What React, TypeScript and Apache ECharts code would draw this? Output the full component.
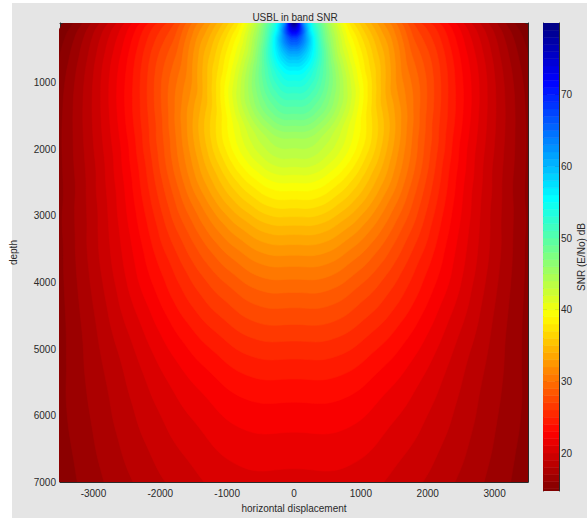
import React, { useEffect, useRef } from "react";
import * as echarts from "echarts";

// ---- axes ----
const xRange = [-3500, 3500];
const depthRange = [100, 7000];
const snrRange = [14.7, 80];
const xTicks = [-3000, -2000, -1000, 0, 1000, 2000, 3000];
const depthTicks = [1000, 2000, 3000, 4000, 5000, 6000, 7000];
const snrTicks = [20, 30, 40, 50, 60, 70];

// ---- filled contour levels (dB), one band per dB ----
const contourLevels = [
  14, 15, 16, 17, 18, 19, 20, 21, 22, 23, 24, 25, 26, 27, 28, 29, 30, 31, 32, 33,
  34, 35, 36, 37, 38, 39, 40, 41, 42, 43, 44, 45, 46, 47, 48, 49, 50, 51, 52, 53,
  54, 55, 56, 57, 58, 59, 60, 61, 62, 63, 64, 65, 66, 67, 68, 69, 70, 71, 72, 73,
  74, 75, 76, 77, 78, 79,
];

// depth (m) at which SNR falls to each level straight below the array (x = 0),
// read off the picture; first entry is level 14, one entry per dB up to 98
const firstProfileLevel = 14;
const profileDepths = [
  12200, 11200, 10300, 9500, 8750, 8050, 7400, 6800, 6250, 5800, // 14-23
  5450, 5150, 4880, 4630, 4380, 4150, 3950, 3760, 3590, 3430, // 24-33
  3280, 3140, 3010, 2880, 2750, 2620, 2500, 2380, 2260, 2130, // 34-43
  1980, 1830, 1730, 1640, 1550, 1460, 1350, 1250, 1150, 1050, // 44-53
  960, 870, 810, 750, 700, 650, 600, 560, 520, 485, // 54-63
  450, 420, 380, 345, 315, 295, 280, 255, 235, 215, // 64-73
  190, 170, 155, 140, 125, 112, 100, 90, 80, 70, // 74-83
  62, 55, 49, 43, 38, 34, 30, 27, 24, 21, // 84-93
  19, 17, 15, 13, 12, // 94-98
];

// beam pattern: off-vertical angle (deg) at which SNR is 0, 0, 1, 2, ... dB below the vertical
const beamAngles = [0, 7, 14, 19, 23, 26.5, 30, 33, 36, 39, 42, 45, 48.5, 52, 56.5, 61.5, 67, 73, 79, 85, 90];
const beamLoss = [0, 0, 1, 2, 3, 4, 5, 6, 7, 8, 9, 10, 11, 12, 13, 14, 15, 16, 17, 18, 19];

// reversed jet colormap (low SNR = dark red, high SNR = dark blue)
const jetReversed = [
  "#800000", "#ff0000", "#ff8000", "#ffff00", "#80ff80",
  "#00ffff", "#0080ff", "#0000ff", "#000080",
];

const FONT = "'Liberation Sans', Arial, Helvetica, sans-serif";
const TXT = "#2a2a2a";
const LINE = "#2a2a2a";

function depthForLevel(level: number): number {
  const i = Math.min(Math.max(level - firstProfileLevel, 0), profileDepths.length - 1);
  return profileDepths[i];
}

export default function App() {
  const ref = useRef<HTMLDivElement>(null);
  useEffect(() => {
    if (!ref.current) return;
    const chart = echarts.init(ref.current, null, { renderer: "svg" });
    const bandData = contourLevels.map((l) => [l, l + 0.5]);

    const contourItem = (params: any, api: any) => {
      const level = api.value(0);
      const pts: number[][] = [];
      const n = beamAngles.length;
      let rTop = 0;
      for (let i = n - 1; i >= 0; i--) {
        const r = depthForLevel(level + beamLoss[i]);
        const a = (beamAngles[i] * Math.PI) / 180;
        if (i === n - 1) rTop = r;
        pts.push(api.coord([r * Math.sin(a), r * Math.cos(a)]));
      }
      for (let i = 1; i < n; i++) {
        const r = depthForLevel(level + beamLoss[i]);
        const a = (beamAngles[i] * Math.PI) / 180;
        pts.push(api.coord([-r * Math.sin(a), r * Math.cos(a)]));
      }
      pts.push(api.coord([-rTop, -1500]));
      pts.push(api.coord([rTop, -1500]));
      const c = api.visual("color");
      return {
        type: "polygon",
        shape: { points: pts, smooth: 0.45 },
        style: { fill: c, stroke: c, lineWidth: 0.6 },
      };
    };

    const colorbarItem = (params: any, api: any) => {
      const lo = Math.max(api.value(0), snrRange[0]);
      const hi = Math.min(api.value(0) + 1, snrRange[1]);
      const p1 = api.coord([0, hi]);
      const p2 = api.coord([1, lo]);
      const c = api.visual("color");
      return {
        type: "rect",
        shape: { x: p1[0], y: p1[1], width: p2[0] - p1[0], height: p2[1] - p1[1] },
        style: { fill: c, stroke: c, lineWidth: 0.5 },
      };
    };

    const tickStyle = { color: LINE, width: 1 };
    const labelStyle = { color: TXT, fontSize: 10, fontFamily: FONT };
    const plain = (v: number) => String(v);

    chart.setOption({
      animation: false,
      backgroundColor: "#e5e5e5",
      textStyle: { fontFamily: FONT },
      title: {
        text: "USBL in band SNR",
        left: 290,
        textAlign: "center",
        top: 7,
        textStyle: { fontSize: 10, fontWeight: "normal", color: TXT, fontFamily: FONT },
      },
      graphic: [
        { type: "rect", left: 0, top: 0, shape: { width: 12, height: 518 }, style: { fill: "#ffffff" }, z: -10 },
        { type: "rect", left: 0, top: 0, shape: { width: 587, height: 3 }, style: { fill: "#ffffff" }, z: -10 },
      ],
      grid: [
        { left: 55, top: 23, width: 473, height: 466, show: true, backgroundColor: "#800000", borderWidth: 0 },
        { left: 543, top: 23, width: 21, height: 468, show: false },
      ],
      visualMap: {
        show: false,
        type: "continuous",
        min: snrRange[0],
        max: snrRange[1],
        dimension: 1,
        seriesIndex: [0, 1],
        inRange: { color: jetReversed },
      },
      xAxis: [
        {
          gridIndex: 0, type: "value", min: xRange[0], max: xRange[1], position: "bottom",
          axisLine: { show: true, onZero: false, lineStyle: tickStyle },
          axisTick: { show: true, inside: true, length: 5, customValues: xTicks, lineStyle: tickStyle },
          axisLabel: { ...labelStyle, customValues: xTicks, margin: 6, formatter: plain },
          splitLine: { show: false },
          name: "horizontal displacement", nameLocation: "middle", nameGap: 16,
          nameTextStyle: labelStyle,
        },
        {
          gridIndex: 0, type: "value", min: xRange[0], max: xRange[1], position: "top",
          axisLine: { show: true, onZero: false, lineStyle: tickStyle },
          axisTick: { show: true, inside: true, length: 5, customValues: xTicks, lineStyle: tickStyle },
          axisLabel: { show: false },
          splitLine: { show: false },
        },
        { gridIndex: 1, type: "value", min: 0, max: 1, show: false },
      ],
      yAxis: [
        {
          gridIndex: 0, type: "value", inverse: true, min: depthRange[0], max: depthRange[1], position: "left",
          axisLine: { show: true, onZero: false, lineStyle: tickStyle },
          axisTick: { show: true, inside: true, length: 5, customValues: depthTicks, lineStyle: tickStyle },
          axisLabel: { ...labelStyle, customValues: depthTicks, margin: 4, formatter: plain },
          splitLine: { show: false },
          name: "depth", nameLocation: "middle", nameGap: 42, nameRotate: 90,
          nameTextStyle: labelStyle,
        },
        {
          gridIndex: 0, type: "value", inverse: true, min: depthRange[0], max: depthRange[1], position: "right",
          axisLine: { show: true, onZero: false, lineStyle: tickStyle },
          axisTick: { show: true, inside: true, length: 5, customValues: depthTicks, lineStyle: tickStyle },
          axisLabel: { show: false },
          splitLine: { show: false },
        },
        {
          gridIndex: 1, type: "value", min: snrRange[0], max: snrRange[1], position: "right",
          axisLine: { show: true, onZero: false, lineStyle: tickStyle },
          axisTick: { show: true, inside: true, length: 4, customValues: snrTicks, lineStyle: tickStyle },
          axisLabel: { ...labelStyle, customValues: snrTicks, margin: 2, formatter: plain },
          splitLine: { show: false },
          name: "SNR (E/No) dB", nameLocation: "middle", nameGap: 15, nameRotate: 90,
          nameTextStyle: labelStyle,
        },
        {
          gridIndex: 1, type: "value", min: snrRange[0], max: snrRange[1], position: "left",
          axisLine: { show: true, onZero: false, lineStyle: tickStyle },
          axisTick: { show: true, inside: true, length: 4, customValues: snrTicks, lineStyle: tickStyle },
          axisLabel: { show: false },
          splitLine: { show: false },
        },
      ],
      series: [
        {
          type: "custom", name: "SNR", coordinateSystem: "cartesian2d",
          xAxisIndex: 0, yAxisIndex: 0, clip: true, z: 1,
          renderItem: contourItem, data: bandData, silent: true,
        },
        {
          type: "custom", name: "colorbar", coordinateSystem: "cartesian2d",
          xAxisIndex: 2, yAxisIndex: 2, clip: true, z: 1,
          renderItem: colorbarItem, data: bandData, silent: true,
        },
      ],
    });
    return () => chart.dispose();
  }, []);
  return (
    <div
      ref={ref}
      style={{ position: "fixed", left: 0, top: 0, width: 587, height: 518 }}
    />
  );
}
